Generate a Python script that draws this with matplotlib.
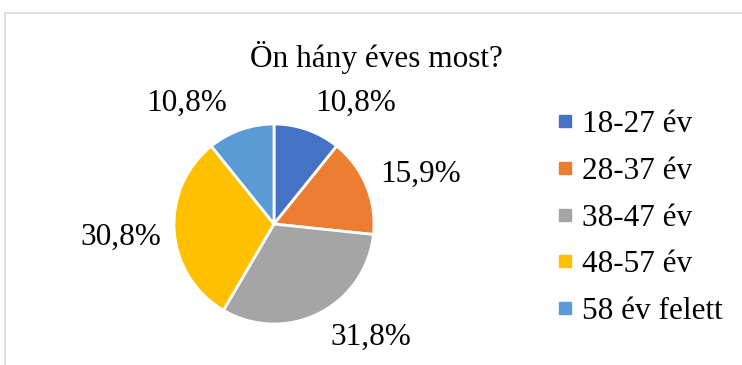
import matplotlib
matplotlib.use("Agg")
import matplotlib.pyplot as plt
from matplotlib.lines import Line2D

categories = ["18-27 év", "28-37 év", "38-47 év", "48-57 év", "58 év felett"]
values = [10.8, 15.9, 31.8, 30.8, 10.8]
colors = ["#4472C4", "#ED7D31", "#A5A5A5", "#FFC000", "#5B9BD5"]
title = "Ön hány éves most?"

# label nudges (layout only, axes units relative to radial placement)
nudges = [(0.33, -0.16), (0.13, -0.06), (0.32, 0.16), (-0.09, -0.03), (-0.39, -0.16)]

plt.rcParams['font.family'] = ['Liberation Serif', 'DejaVu Serif']
FS = 22.5

W, H = 742, 365
fig = plt.figure(figsize=(W / 100, H / 100), dpi=100)

cx, cy, r = 274, 141, 100
ax = fig.add_axes([(cx - r) / W, (cy - r) / H, 2 * r / W, 2 * r / H])
wedges, texts, autotexts = ax.pie(
    values, colors=colors, startangle=90, counterclock=False,
    wedgeprops=dict(edgecolor="white", linewidth=2),
    autopct=lambda p: f"{p:.1f}".replace(".", ",") + "%",
    pctdistance=1.45,
    textprops=dict(fontsize=FS, color="#000000"))
for t, (dx, dy) in zip(autotexts, nudges):
    x, y = t.get_position()
    t.set_position((x + dx, y + dy))
    t.set_clip_on(False)
ax.set_xlim(-1, 1)
ax.set_ylim(-1, 1)
ax.set_aspect("equal")

fig.text(376 / W, 1 - 58 / H, title, ha="center", va="center", fontsize=FS)

handles = [Line2D([], [], linestyle="none", marker="s", markersize=8,
                  markerfacecolor=c, markeredgecolor=c) for c in colors]
fig.legend(handles, categories, loc="center left",
           bbox_to_anchor=(557 / W, 1 - 218 / H), frameon=False,
           fontsize=FS, handlelength=0.5, handletextpad=0.3,
           labelspacing=0.57, borderpad=0, borderaxespad=0)

border = "#D9D9D9"
fig.add_artist(Line2D([4.5 / W, 4.5 / W], [0, 1 - 13 / H], color=border, lw=1.2))
fig.add_artist(Line2D([4.5 / W, 1], [1 - 13 / H, 1 - 13 / H], color=border, lw=1.2))

fig.savefig("out.png", dpi=100, facecolor="white")
